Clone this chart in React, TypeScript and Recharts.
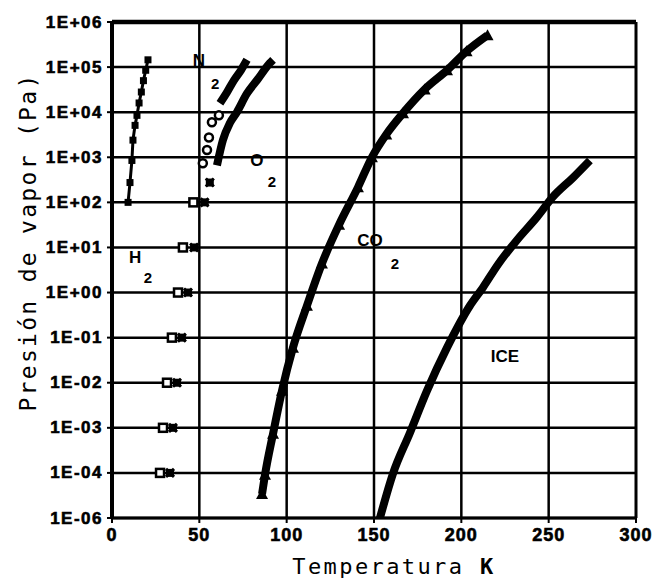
import {
  ComposedChart,
  Line,
  ReferenceDot,
  ReferenceLine,
  Scatter,
  XAxis,
  YAxis,
} from "recharts";

// temperature in K, vapour pressure in Pa
const xTicks = [0, 50, 100, 150, 200, 250, 300];
const yTicks = [1e-5, 1e-4, 1e-3, 1e-2, 1e-1, 1, 10, 100, 1e3, 1e4, 1e5, 1e6];
const yTickLabels = [
  "1E-06", "1E-04", "1E-03", "1E-02", "1E-01", "1E+00",
  "1E+01", "1E+02", "1E+03", "1E+04", "1E+05", "1E+06",
];

const h2Temp = [9.2, 10.3, 11.4, 12.0, 13.2, 14.3, 15.5, 16.8, 18.0, 19.3, 20.6];
const h2Pres = [100, 275, 850, 2400, 5100, 8500, 16000, 28000, 50000, 85000, 145000];

const n2SolidTemp = [27.5, 29.2, 31.5, 34.3, 37.8, 40.6, 46.6];
const n2SolidPres = [1e-4, 1e-3, 1e-2, 1e-1, 1, 10, 100];
const n2LiqTemp = [52, 54.4, 55.5, 57.2, 61.2];
const n2LiqPres = [740, 1450, 2750, 6000, 8500];
const n2BandTemp = [61.8, 65.8, 69.8, 73.8, 77.3];
const n2BandPres = [15800, 27500, 51000, 85000, 145000];

const o2SolidTemp = [33.2, 34.9, 37.2, 40, 43.5, 47, 53, 56];
const o2SolidPres = [1e-4, 1e-3, 1e-2, 1e-1, 1, 10, 100, 275];
const o2BandTemp = [60.1, 63.5, 67.5, 71.5, 77.3, 83, 90.4, 92.2];
const o2BandPres = [660, 2400, 5750, 10000, 26000, 51000, 123000, 145000];

const co2Temp = [85.9, 87.6, 92.2, 97.3, 103.6, 111.6, 120.2, 130, 140.8, 148.8, 157, 166.6, 179, 191.8, 203, 215];
const co2Pres = [3.4e-5, 9.1e-5, 7.4e-4, 6.6e-3, 0.06, 0.51, 4.4, 32, 215, 1000, 3200, 9500, 32000, 85000, 225000, 510000];

const iceTemp = [153.4, 160.8, 170.6, 180.3, 191.8, 204.9, 212.4, 221, 231.8, 243.3, 252.4, 264, 273.6];
const icePres = [1e-5, 9.5e-5, 7.8e-4, 6.6e-3, 0.06, 0.51, 1.3, 4.2, 14.5, 47, 132, 355, 850];

// curve names written inside the plot
const notes = [
  { text: "H", t: 13.2, p: 6, big: true },
  { text: "2", t: 20.6, p: 2.1, big: false },
  { text: "N", t: 49.8, p: 1.44e5, big: true },
  { text: "2", t: 59, p: 4.2e4, big: false },
  { text: "O", t: 83, p: 860, big: true },
  { text: "2", t: 91.6, p: 293, big: false },
  { text: "CO", t: 147.7, p: 14.5, big: true },
  { text: "2", t: 162, p: 4.4, big: false },
  { text: "ICE", t: 225, p: 0.04, big: true },
];

const pts = (t: number[], p: number[]) => t.map((x, i) => ({ x, y: p[i] }));

const TICK_FONT = "'Liberation Sans', Arial, sans-serif";
const TITLE_FONT = "'DejaVu Sans Mono', monospace";

function YTick(props: any) {
  const { x, y, payload } = props;
  return (
    <text
      x={x}
      y={y}
      textAnchor="end"
      dominantBaseline="central"
      fontFamily={TICK_FONT}
      fontWeight={700}
      fontSize={17}
      letterSpacing={1.5}
      fill="#000"
      stroke="#000"
      strokeWidth={0.6}
    >
      {yTickLabels[payload.index]}
    </text>
  );
}

function XTick(props: any) {
  const { x, y, payload } = props;
  return (
    <text
      x={x}
      y={y + 16}
      textAnchor="middle"
      fontFamily={TICK_FONT}
      fontWeight={700}
      fontSize={18}
      letterSpacing={1}
      fill="#000"
      stroke="#000"
      strokeWidth={0.6}
    >
      {payload.value}
    </text>
  );
}

const squareDot = (p: any) =>
  p.cx == null ? null : (
    <rect key={`s${p.index}`} x={p.cx - 3.5} y={p.cy - 3.5} width={7} height={7} fill="#000" />
  );

const triangleDot = (p: any) =>
  p.cx == null ? null : (
    <polygon
      key={`t${p.index}`}
      points={`${p.cx},${p.cy - 6} ${p.cx - 6},${p.cy + 5} ${p.cx + 6},${p.cy + 5}`}
      fill="#000"
    />
  );

const openSquare = (p: any) => (
  <rect x={p.cx - 4} y={p.cy - 4} width={8} height={8} fill="#fff" stroke="#000" strokeWidth={2.5} />
);

const openCircle = (p: any) => (
  <circle cx={p.cx} cy={p.cy} r={4} fill="#fff" stroke="#000" strokeWidth={2.5} />
);

const crossMark = (p: any) => (
  <g stroke="#000" strokeWidth={3}>
    <line x1={p.cx - 4} y1={p.cy - 4} x2={p.cx + 4} y2={p.cy + 4} />
    <line x1={p.cx - 4} y1={p.cy + 4} x2={p.cx + 4} y2={p.cy - 4} />
    <rect x={p.cx - 2.5} y={p.cy - 2.5} width={5} height={5} fill="#000" />
  </g>
);

export default function App() {
  return (
    <div style={{ position: "absolute", left: 0, top: 0, width: 655, height: 579, background: "#fff" }}>
      <ComposedChart width={655} height={579} margin={{ top: 22, right: 19, left: 0, bottom: 0 }}>
        <XAxis
          type="number"
          dataKey="x"
          domain={[0, 300]}
          ticks={xTicks}
          height={61}
          tick={<XTick />}
          tickSize={5}
          axisLine={{ stroke: "#000", strokeWidth: 3 }}
          tickLine={{ stroke: "#000", strokeWidth: 2 }}
          label={{
            content: (lp: any) => {
              const vb = lp.viewBox;
              return (
                <text
                  x={vb.x + vb.width / 2 + 20}
                  y={vb.y + 56}
                  textAnchor="middle"
                  fontFamily={TITLE_FONT}
                  fontSize={22}
                  letterSpacing={2.4}
                  fill="#000"
                >
                  Temperatura <tspan fontWeight={700}>K</tspan>
                </text>
              );
            },
          }}
        />
        <YAxis
          type="number"
          dataKey="y"
          scale="log"
          domain={[1e-5, 1e6]}
          allowDataOverflow
          ticks={yTicks}
          width={112}
          tick={<YTick />}
          tickSize={5}
          tickMargin={4}
          axisLine={{ stroke: "#000", strokeWidth: 4 }}
          tickLine={{ stroke: "#000", strokeWidth: 2 }}
          label={{
            content: (lp: any) => {
              const vb = lp.viewBox;
              const cx = vb.x + 28;
              const cy = vb.y + vb.height / 2 - 28;
              return (
                <text
                  x={cx}
                  y={cy}
                  transform={`rotate(-90 ${cx} ${cy})`}
                  textAnchor="middle"
                  dominantBaseline="central"
                  fontFamily={TITLE_FONT}
                  fontSize={23}
                  letterSpacing={2.3}
                  fill="#000"
                >
                  Presión de vapor (Pa)
                </text>
              );
            },
          }}
        />

        {/* heavy black grid, one line per tick */}
        {xTicks.map((t) => (
          <ReferenceLine key={`gx${t}`} x={t} stroke="#000" strokeWidth={t === 300 ? 3 : 2.5} />
        ))}
        {yTicks.map((t) => (
          <ReferenceLine key={`gy${t}`} y={t} stroke="#000" strokeWidth={t === 1e6 ? 4.5 : 2.5} />
        ))}

        <Line
          data={pts(h2Temp, h2Pres)}
          dataKey="y"
          type="linear"
          stroke="#000"
          strokeWidth={3}
          dot={squareDot}
          isAnimationActive={false}
        />
        <Scatter data={pts(n2SolidTemp, n2SolidPres)} shape={openSquare} isAnimationActive={false} />
        <Scatter data={pts(o2SolidTemp, o2SolidPres)} shape={crossMark} isAnimationActive={false} />
        <Scatter data={pts(n2LiqTemp, n2LiqPres)} shape={openCircle} isAnimationActive={false} />
        <Line
          data={pts(n2BandTemp, n2BandPres)}
          dataKey="y"
          type="monotone"
          stroke="#000"
          strokeWidth={8}
          dot={false}
          isAnimationActive={false}
        />
        <Line
          data={pts(o2BandTemp, o2BandPres)}
          dataKey="y"
          type="monotone"
          stroke="#000"
          strokeWidth={8}
          dot={false}
          isAnimationActive={false}
        />
        <Line
          data={pts(co2Temp, co2Pres)}
          dataKey="y"
          type="monotone"
          stroke="#000"
          strokeWidth={8}
          dot={triangleDot}
          isAnimationActive={false}
        />
        <Line
          data={pts(iceTemp, icePres)}
          dataKey="y"
          type="monotone"
          stroke="#000"
          strokeWidth={8}
          dot={false}
          isAnimationActive={false}
        />

        {notes.map((n, i) => (
          <ReferenceDot
            key={i}
            x={n.t}
            y={n.p}
            r={1}
            fill="none"
            stroke="none"
            ifOverflow="visible"
            label={{
              value: n.text,
              position: "center",
              fill: "#000",
              fontSize: n.big ? 17 : 15,
              fontWeight: 700,
              fontFamily: TICK_FONT,
            }}
          />
        ))}
      </ComposedChart>
    </div>
  );
}
